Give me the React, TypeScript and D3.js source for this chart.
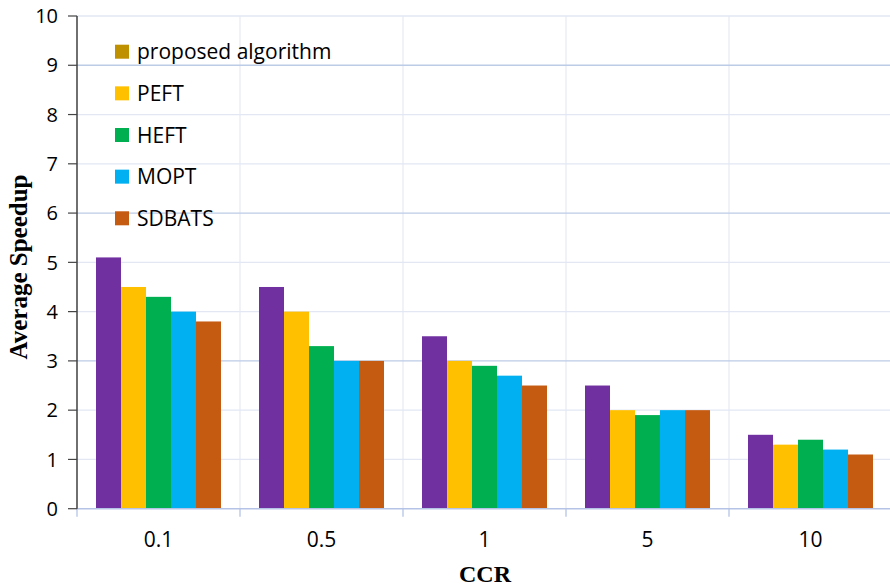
import React from "react";
import * as d3 from "d3";

const categories = ["0.1", "0.5", "1", "5", "10"];
const seriesNames = ["proposed algorithm", "PEFT", "HEFT", "MOPT", "SDBATS"];
const proposed = [5.1, 4.5, 3.5, 2.5, 1.5];
const peft = [4.5, 4.0, 3.0, 2.0, 1.3];
const heft = [4.3, 3.3, 2.9, 1.9, 1.4];
const mopt = [4.0, 3.0, 2.7, 2.0, 1.2];
const sdbats = [3.8, 3.0, 2.5, 2.0, 1.1];
const yTicks = [0, 1, 2, 3, 4, 5, 6, 7, 8, 9, 10];
const barColors = ["#7030A0", "#FFC000", "#00B050", "#00B0F0", "#C55A11"];
const legendColors = ["#BF9000", "#FFC000", "#00B050", "#00B0F0", "#C55A11"];

const W = 890;
const H = 587;
const left = 77;
const right = 892;
const top = 16;
const bottom = 508.7;

export default function App() {
  const series = [proposed, peft, heft, mopt, sdbats];
  const x = d3.scaleBand<string>().domain(categories).range([left, right]).paddingInner(0).paddingOuter(0);
  const xInner = d3
    .scaleBand<number>()
    .domain(d3.range(seriesNames.length))
    .range([19, x.bandwidth() - 19]);
  const y = d3.scaleLinear().domain([0, 10]).range([bottom, top]);
  const darker = new Set([3, 6, 9]);
  const font = "'Open Sans', 'Liberation Sans', sans-serif";
  const serif = "'Liberation Serif', 'Times New Roman', serif";

  return (
    <svg width={W} height={H} style={{ position: "absolute", left: 0, top: 0, background: "#fff" }}>
      {categories.map((c, i) =>
        i === 0 ? null : (
          <line key={"vg" + c} x1={x(c)!} x2={x(c)!} y1={top} y2={bottom} stroke="#E6EAF4" strokeWidth={1.2} />
        )
      )}
      {yTicks.map((t) =>
        t === 0 ? null : (
          <line
            key={"hg" + t}
            x1={left}
            x2={W}
            y1={y(t)}
            y2={y(t)}
            stroke={darker.has(t) ? "#BCCBE6" : "#E2E7F3"}
            strokeWidth={1.3}
          />
        )
      )}
      {categories.map((c, ci) =>
        series.map((s, si) => (
          <rect
            key={c + "-" + si}
            x={x(c)! + xInner(si)!}
            y={y(s[ci])}
            width={xInner.bandwidth()}
            height={y(0) - y(s[ci])}
            fill={barColors[si]}
          />
        ))
      )}
      <line x1={left} x2={W} y1={bottom} y2={bottom} stroke="#B4C3E6" strokeWidth={1.5} />
      {categories.map((c) => (
        <line key={"xt" + c} x1={x(c)!} x2={x(c)!} y1={bottom} y2={bottom + 8} stroke="#B4C3E6" strokeWidth={1.3} />
      ))}
      {categories.map((c) => (
        <text
          key={"xl" + c}
          x={x(c)! + x.bandwidth() / 2}
          y={547}
          textAnchor="middle"
          fontFamily={font}
          fontSize={21}
          fill="#000"
        >
          {c}
        </text>
      ))}
      <line x1={left} x2={left} y1={top} y2={bottom} stroke="#222" strokeWidth={1.3} />
      {yTicks.map((t) => (
        <g key={"yt" + t}>
          <line x1={left - 9} x2={left} y1={y(t)} y2={y(t)} stroke="#444" strokeWidth={1.2} />
          <text x={58} y={y(t)} dy="0.36em" textAnchor="end" fontFamily={font} fontSize={20} fill="#000">
            {t}
          </text>
        </g>
      ))}
      <text x={485} y={582} textAnchor="middle" fontFamily={serif} fontWeight="bold" fontSize={24}>
        CCR
      </text>
      <text
        transform={`translate(27, 267) rotate(-90)`}
        textAnchor="middle"
        fontFamily={serif}
        fontWeight="bold"
        fontSize={25}
      >
        Average Speedup
      </text>
      {seriesNames.map((n, i) => {
        const cy = 51.7 + i * 41.65;
        return (
          <g key={"lg" + n}>
            <rect x={115} y={cy - 7} width={14} height={14} fill={legendColors[i]} />
            <text x={137} y={cy} dy="0.36em" fontFamily={font} fontSize={21} fill="#000">
              {n}
            </text>
          </g>
        );
      })}
    </svg>
  );
}
